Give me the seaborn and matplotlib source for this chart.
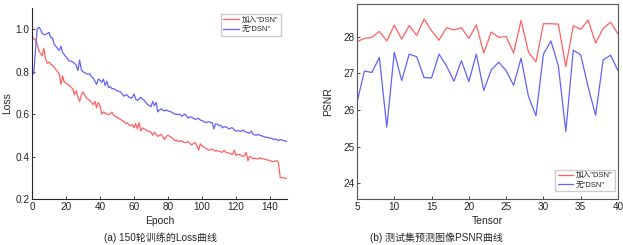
import numpy as np
import pandas as pd
import matplotlib
matplotlib.use("Agg")
import matplotlib.pyplot as plt
import seaborn as sns

# Loss per epoch (0..150)
epochs = list(range(151))
loss_dsn = [
    0.97, 0.955, 0.95, 0.93, 0.90, 0.885, 0.875, 0.91, 0.86, 0.84,
    0.845, 0.835, 0.83, 0.82, 0.81, 0.80, 0.79, 0.74, 0.78, 0.75,
    0.745, 0.74, 0.735, 0.725, 0.72, 0.69, 0.71, 0.68, 0.66, 0.69,
    0.705, 0.69, 0.675, 0.67, 0.665, 0.655, 0.645, 0.66, 0.63, 0.655,
    0.64, 0.60, 0.61, 0.605, 0.60, 0.598, 0.60, 0.61, 0.595, 0.59,
    0.585, 0.58, 0.575, 0.57, 0.565, 0.555, 0.56, 0.55, 0.545, 0.55,
    0.535, 0.555, 0.53, 0.56, 0.52, 0.535, 0.53, 0.525, 0.52, 0.518,
    0.515, 0.50, 0.515, 0.505, 0.495, 0.50, 0.505, 0.49, 0.48, 0.495,
    0.50, 0.495, 0.49, 0.485, 0.475, 0.478, 0.47, 0.472, 0.475, 0.468,
    0.465, 0.468, 0.47, 0.46, 0.455, 0.462, 0.465, 0.45, 0.43, 0.46,
    0.45, 0.445, 0.44, 0.435, 0.43, 0.432, 0.435, 0.43, 0.425, 0.428,
    0.425, 0.422, 0.42, 0.43, 0.42, 0.418, 0.415, 0.412, 0.41, 0.43,
    0.405, 0.41, 0.41, 0.405, 0.40, 0.405, 0.42, 0.38, 0.40, 0.398,
    0.39, 0.392, 0.39, 0.388, 0.395, 0.39, 0.39, 0.387, 0.385, 0.383,
    0.38, 0.378, 0.375, 0.38, 0.38, 0.37, 0.30, 0.30, 0.30, 0.298,
    0.298,
]
loss_nodsn = [
    0.80, 0.79, 0.90, 1.00, 1.01, 1.0, 0.98, 0.975, 0.975, 0.98,
    0.985, 0.96, 0.96, 0.93, 0.92, 0.91, 0.90, 0.92, 0.89, 0.88,
    0.87, 0.86, 0.85, 0.85, 0.845, 0.84, 0.83, 0.805, 0.855, 0.81,
    0.80, 0.795, 0.79, 0.788, 0.79, 0.775, 0.77, 0.755, 0.74, 0.765,
    0.76, 0.75, 0.765, 0.735, 0.755, 0.725, 0.73, 0.72, 0.72, 0.715,
    0.71, 0.708, 0.705, 0.695, 0.685, 0.69, 0.69, 0.68, 0.675, 0.68,
    0.695, 0.67, 0.665, 0.672, 0.68, 0.67, 0.665, 0.655, 0.645, 0.64,
    0.635, 0.66, 0.64, 0.655, 0.61, 0.62, 0.625, 0.618, 0.615, 0.62,
    0.615, 0.612, 0.61, 0.605, 0.60, 0.60, 0.598, 0.60, 0.59, 0.595,
    0.60, 0.59, 0.58, 0.588, 0.585, 0.58, 0.575, 0.578, 0.58, 0.572,
    0.57, 0.565, 0.56, 0.562, 0.565, 0.56, 0.56, 0.53, 0.555, 0.552,
    0.545, 0.548, 0.535, 0.54, 0.54, 0.535, 0.53, 0.535, 0.535, 0.525,
    0.52, 0.522, 0.52, 0.518, 0.525, 0.52, 0.515, 0.512, 0.51, 0.52,
    0.505, 0.502, 0.50, 0.505, 0.50, 0.498, 0.495, 0.492, 0.49, 0.49,
    0.485, 0.487, 0.48, 0.482, 0.48, 0.475, 0.48, 0.478, 0.475, 0.473,
    0.47,
]

# PSNR per test tensor (5..40)
tensors = list(range(5, 41))
psnr_dsn = [
    27.86, 27.95, 27.98, 28.14, 27.88, 28.31, 27.93, 28.30, 28.03, 28.48,
    28.16, 27.90, 28.24, 28.18, 28.24, 27.95, 28.32, 27.55, 28.12, 27.98,
    28.00, 27.55, 28.44, 27.57, 27.31, 28.35, 28.35, 28.34, 27.18, 28.29,
    28.20, 28.45, 27.82, 28.22, 28.39, 28.07,
]
psnr_nodsn = [
    26.20, 27.06, 27.02, 27.43, 25.53, 27.57, 26.80, 27.52, 27.45, 26.88,
    26.87, 27.52, 27.20, 26.78, 27.34, 26.77, 27.52, 26.53, 27.09, 27.30,
    27.07, 26.67, 27.41, 26.36, 25.84, 27.52, 27.88, 27.20, 25.41, 27.63,
    27.50, 26.62, 25.85, 27.36, 27.49, 27.07,
]

labels = ['加入"DSN"', '无"DSN"']
colors = ["#ff6060", "#6262ff"]

sns.set_style("ticks")
plt.rcParams["font.family"] = ["Liberation Sans", "Noto Sans CJK SC", "DejaVu Sans"]
plt.rcParams["font.size"] = 7

df_loss = pd.DataFrame({
    "Epoch": epochs * 2,
    "Loss": loss_dsn + loss_nodsn,
    "Model": [labels[0]] * len(epochs) + [labels[1]] * len(epochs),
})
df_psnr = pd.DataFrame({
    "Tensor": tensors * 2,
    "PSNR": psnr_dsn + psnr_nodsn,
    "Model": [labels[0]] * len(tensors) + [labels[1]] * len(tensors),
})

fig = plt.figure(figsize=(6.23, 2.45), dpi=100)
ax1 = fig.add_axes([0.0514, 0.188, 0.4093, 0.779])
ax2 = fig.add_axes([0.573, 0.188, 0.419, 0.796])

leg_kw = dict(fontsize=5.5, fancybox=False, framealpha=1, edgecolor="#cccccc",
              handlelength=2.0, borderpad=0.3, labelspacing=0.25,
              handletextpad=0.4, borderaxespad=0.3)

# (a) loss curves
sns.lineplot(data=df_loss, x="Epoch", y="Loss", hue="Model", palette=colors,
             linewidth=0.9, ax=ax1)
ax1.set_xlim(0, 150)
ax1.set_ylim(0.2, 1.1)
ax1.set_xticks(range(0, 150, 20))
ax1.set_yticks([0.2, 0.4, 0.6, 0.8, 1.0])
ax1.set_yticklabels(["0.2", "0.4", "0.6", "0.8", "1.0"])
sns.despine(ax=ax1)
ax1.set_xlabel("Epoch", fontsize=7.5, labelpad=3)
ax1.set_ylabel("Loss", fontsize=7.5, labelpad=2)
ax1.legend(loc="upper right", bbox_to_anchor=(0.984, 0.979), **leg_kw)

# (b) PSNR curves
sns.lineplot(data=df_psnr, x="Tensor", y="PSNR", hue="Model", palette=colors,
             linewidth=0.9, ax=ax2)
ax2.set_xlim(5, 40)
ax2.set_ylim(23.57, 28.89)
ax2.set_xticks(range(5, 41, 5))
ax2.set_yticks([24, 25, 26, 27, 28])
ax2.set_xlabel("Tensor", fontsize=7.5, labelpad=3)
ax2.set_ylabel("PSNR", fontsize=7.5, labelpad=7)
for s in ax2.spines.values():
    s.set_color("#555555")
ax2.legend(loc="lower right", bbox_to_anchor=(0.997, 0.03), **leg_kw)

for ax in (ax1, ax2):
    ax.tick_params(direction="in", length=2.5, width=0.6, labelsize=7.2, pad=2)
    for s in ax.spines.values():
        s.set_linewidth(0.8)

fig.text(0.257, 0.029, "(a) 150轮训练的Loss曲线", ha="center", va="center", fontsize=7.2)
fig.text(0.70, 0.029, "(b) 测试集预测图像PSNR曲线", ha="center", va="center", fontsize=7.2)

fig.savefig("out.png", dpi=100)
